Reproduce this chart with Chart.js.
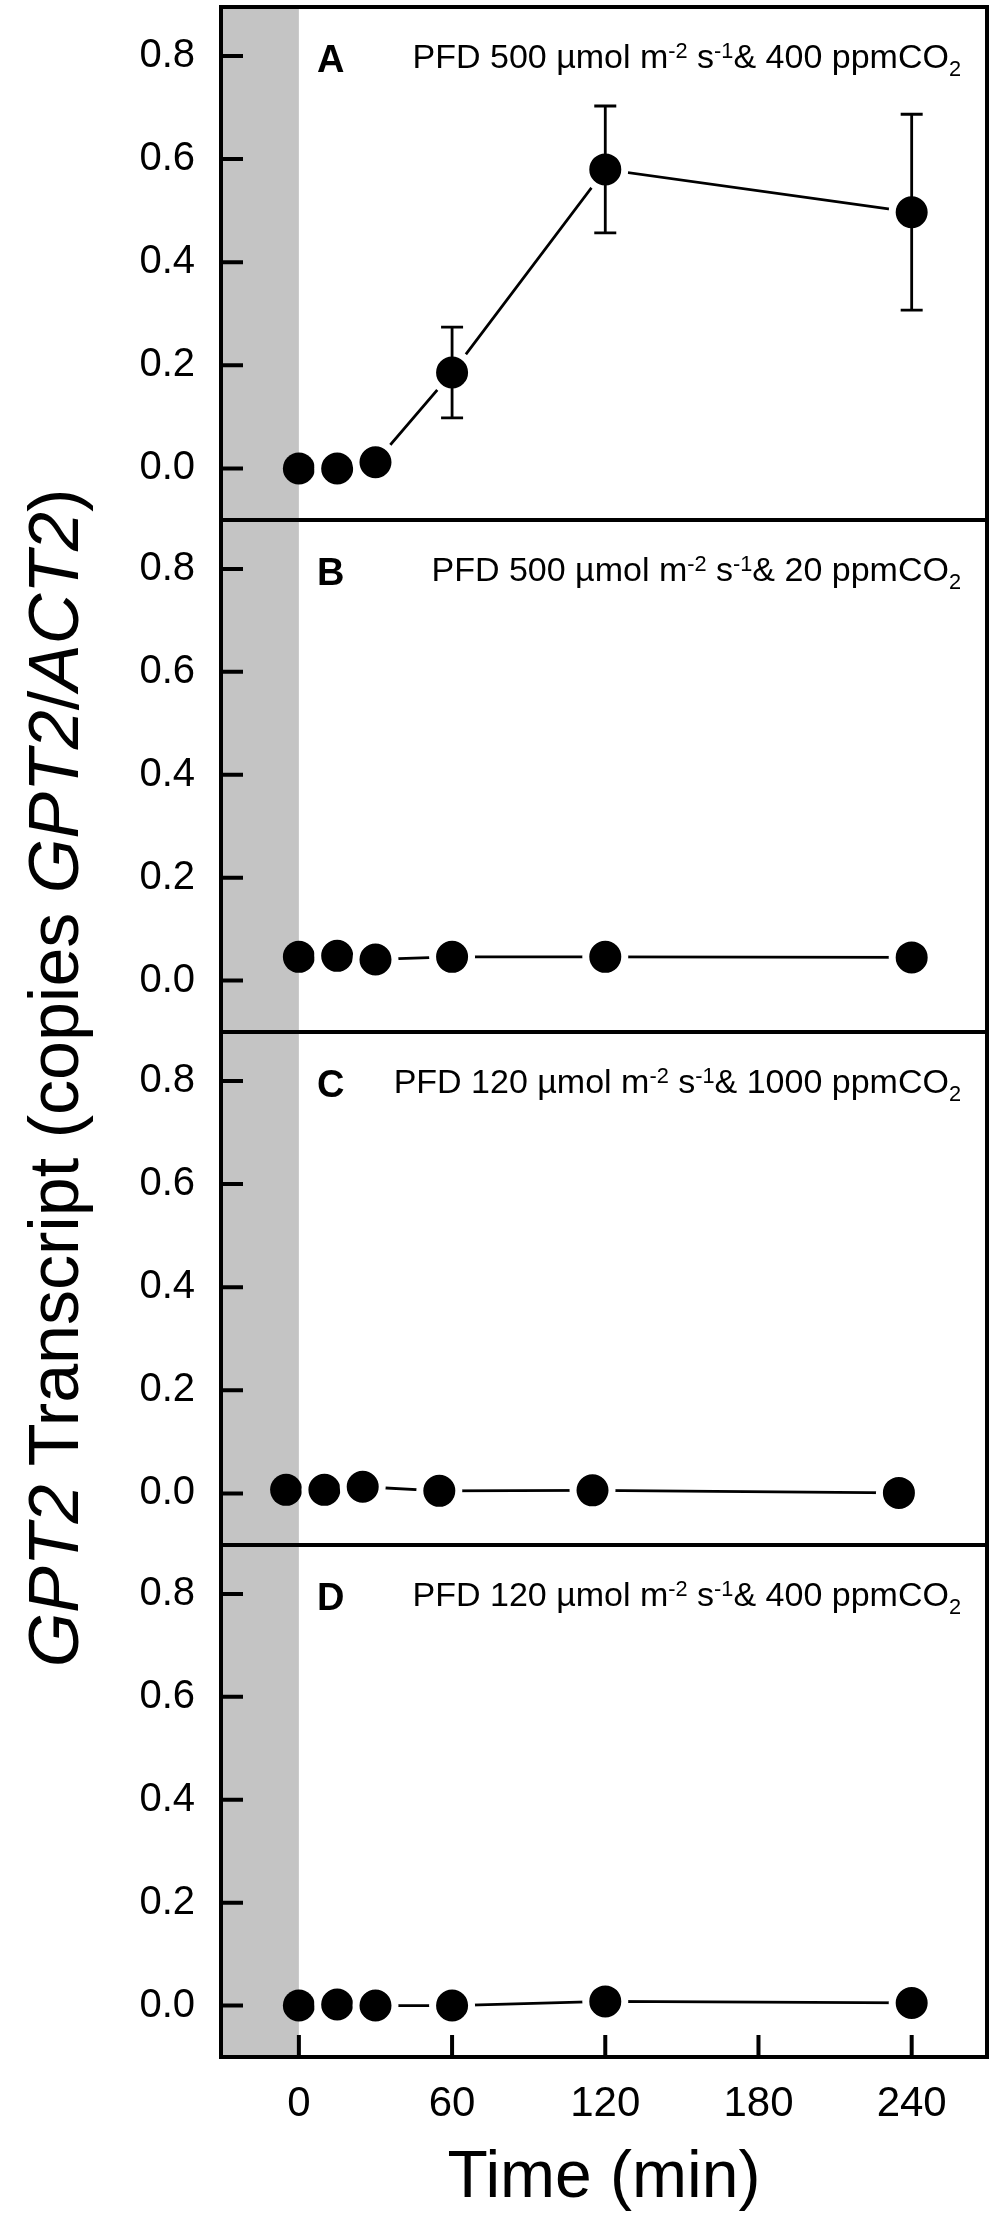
<!DOCTYPE html>
<html>
<head>
<meta charset="utf-8">
<title>GPT2 transcript time course</title>
<script src="https://cdn.jsdelivr.net/npm/chart.js@4.4.1/dist/chart.umd.min.js"></script>
<style>
  html, body { margin: 0; padding: 0; background: #fff; }
  #fig {
    position: relative; width: 997px; height: 2231px; overflow: hidden;
    font-family: 'Liberation Sans', Arial, sans-serif; color: #000;
  }
  #fig canvas { position: absolute; left: 0; }
  .letter { position: absolute; left: 317px; font-size: 38px; font-weight: bold; line-height: 1; }
  .note { position: absolute; right: 36px; font-size: 34px; line-height: 1; white-space: nowrap; }
  .note sup, .note sub { font-size: 0.64em; line-height: 0; }
  .note sup { vertical-align: 0.45em; }
  .note sub { vertical-align: -0.35em; }
  #ytitle {
    position: absolute; left: 54px; top: 1078px; font-size: 70px; line-height: 1;
    white-space: nowrap; transform: translate(-50%, -50%) rotate(-90deg);
  }
</style>
</head>
<body>
<div id="fig">
  <div id="ytitle"><i>GPT2</i> Transcript (copies <i>GPT2</i>/<i>ACT2</i>)</div>
</div>
<script>
const FONT = "'Liberation Sans', Arial, sans-serif";

// ── Données ────────────────────────────────────────────────────────────────

const panelLetters = ['A', 'B', 'C', 'D'];
const pfdLevels    = [500, 500, 120, 120];
const co2Levels    = [400, 20, 1000, 400];

const timeA = [0, 15, 30, 60, 120, 240];
const gptA  = [0.000, 0.000, 0.012, 0.186, 0.580, 0.497];
const errA  = [0, 0, 0, 0.088, 0.123, 0.190];

const timeB = [0, 15, 30, 60, 120, 240];
const gptB  = [0.046, 0.048, 0.041, 0.046, 0.046, 0.045];

const timeC = [-5, 10, 25, 55, 115, 235];
const gptC  = [0.007, 0.007, 0.013, 0.005, 0.006, 0.001];

const timeD = [0, 15, 30, 60, 120, 240];
const gptD  = [0.000, 0.002, 0.000, 0.000, 0.008, 0.005];

const xTicks = [0, 60, 120, 180, 240];
const yTicks = [0, 0.2, 0.4, 0.6, 0.8];

const panels = [
  { time: timeA, value: gptA, err: errA },
  { time: timeB, value: gptB, err: null },
  { time: timeC, value: gptC, err: null },
  { time: timeD, value: gptD, err: null },
];

// ── Mise en page ───────────────────────────────────────────────────────────

const PAGE_W   = 997;
const PAGE_H   = 2231;
const FRAME_L  = 221;
const FRAME_R  = 987;
const FRAME_T  = 7;
const PANEL_H  = 512.5;
const PAD      = 10;
const X_AXIS_H = PAGE_H - Math.round(FRAME_T + 4 * PANEL_H);

const fig = document.getElementById('fig');
const panelTop = i => Math.round(FRAME_T + i * PANEL_H);

// Fixe la taille d'un axe et supprime la marge ajoutée pour ses labels
function lockScale(s, size) {
  if (s.isHorizontal()) s.height = size; else s.width = size;
  s.paddingTop = s.paddingBottom = s.paddingLeft = s.paddingRight = 0;
}

// ── Plugin : bande grise, barres d'erreur, cadre et graduations ───────────

const framePlugin = {
  id: 'frame',
  beforeDatasetsDraw(chart) {
    const { ctx, chartArea: a, scales: { x } } = chart;
    const x0 = x.getPixelForValue(0);
    ctx.save();
    ctx.fillStyle = '#c4c4c4';
    ctx.fillRect(a.left, a.top, x0 - a.left, a.bottom - a.top);
    ctx.restore();
  },
  afterDatasetsDraw(chart, args, opts) {
    if (!opts.err) return;
    const { ctx, scales: { y } } = chart;
    const meta = chart.getDatasetMeta(0);
    const vals = chart.data.datasets[0].data;
    ctx.save();
    ctx.strokeStyle = '#000';
    ctx.lineWidth = 2.8;
    opts.err.forEach((e, i) => {
      if (!e) return;
      const px  = meta.data[i].x;
      const top = y.getPixelForValue(vals[i].y + e);
      const bot = y.getPixelForValue(vals[i].y - e);
      ctx.beginPath();
      ctx.moveTo(px, top); ctx.lineTo(px, bot);
      ctx.moveTo(px - 11, top); ctx.lineTo(px + 11, top);
      ctx.moveTo(px - 11, bot); ctx.lineTo(px + 11, bot);
      ctx.stroke();
    });
    ctx.restore();
  },
  afterDraw(chart, args, opts) {
    const { ctx, chartArea: a, scales: { x, y } } = chart;
    ctx.save();
    ctx.strokeStyle = '#000';
    ctx.lineWidth = 4;
    ctx.strokeRect(a.left, a.top, a.right - a.left, a.bottom - a.top);
    ctx.beginPath();
    yTicks.forEach(v => {
      const py = y.getPixelForValue(v);
      ctx.moveTo(a.left, py); ctx.lineTo(a.left + 22, py);
    });
    if (opts.bottomTicks) {
      xTicks.forEach(v => {
        const px = x.getPixelForValue(v);
        ctx.moveTo(px, a.bottom); ctx.lineTo(px, a.bottom - 22);
      });
    }
    ctx.stroke();
    ctx.restore();
  },
};

// ── Création d'un panneau ──────────────────────────────────────────────────

function makePanel(i) {
  const p      = panels[i];
  const last   = i === panels.length - 1;
  const top    = panelTop(i) - PAD;
  const height = last ? PAGE_H - top : panelTop(i + 1) - panelTop(i) + 2 * PAD;

  const canvas = document.createElement('canvas');
  canvas.width  = PAGE_W;
  canvas.height = height;
  canvas.style.top    = top + 'px';
  canvas.style.width  = PAGE_W + 'px';
  canvas.style.height = height + 'px';
  fig.appendChild(canvas);

  const inGrey = ctx => ctx.raw && ctx.raw.x <= 0;

  new Chart(canvas, {
    type: 'line',
    data: {
      datasets: [{
        data:                 p.time.map((t, j) => ({ x: t, y: p.value[j] })),
        borderColor:          '#000',
        borderWidth:          2.8,
        tension:              0,
        pointBackgroundColor: '#000',
        pointBorderColor:     ctx => inGrey(ctx) ? 'rgba(0,0,0,0)' : '#fff',
        pointBorderWidth:     ctx => inGrey(ctx) ? 0 : 7,
        pointRadius:          ctx => inGrey(ctx) ? 16 : 19.5,
        clip:                 false,
      }],
    },
    options: {
      responsive: false,
      animation: false,
      devicePixelRatio: 1,
      events: [],
      layout: {
        autoPadding: false,
        padding: { top: PAD, bottom: last ? 0 : PAD, left: 0, right: PAGE_W - FRAME_R },
      },
      plugins: {
        legend:  { display: false },
        tooltip: { enabled: false },
        frame:   { err: p.err, bottomTicks: last },
      },
      scales: {
        x: {
          type: 'linear',
          min: -30.5,
          max: 269.5,
          display: last,
          afterBuildTicks: s => { s.ticks = xTicks.map(v => ({ value: v })); },
          afterFit: s => lockScale(s, last ? X_AXIS_H : 0),
          grid:   { display: false, drawTicks: false },
          border: { display: false },
          ticks: {
            color: '#000',
            padding: 22,
            maxRotation: 0,
            font: { family: FONT, size: 42 },
          },
          title: {
            display: true,
            text: 'Time (min)',
            color: '#000',
            font: { family: FONT, size: 66 },
            padding: { top: 0, bottom: 13 },
          },
        },
        y: {
          type: 'linear',
          min: -0.1,
          max: 0.895,
          afterBuildTicks: s => { s.ticks = yTicks.map(v => ({ value: v })); },
          afterFit: s => lockScale(s, FRAME_L),
          grid:   { display: false, drawTicks: false },
          border: { display: false },
          ticks: {
            color: '#000',
            padding: 26,
            font: { family: FONT, size: 40 },
            callback: v => v.toFixed(1),
          },
        },
      },
    },
    plugins: [framePlugin],
  });

  const letter = document.createElement('div');
  letter.className = 'letter';
  letter.style.top = (panelTop(i) + 33) + 'px';
  letter.textContent = panelLetters[i];
  fig.appendChild(letter);

  const note = document.createElement('div');
  note.className = 'note';
  note.style.top = (panelTop(i) + 32) + 'px';
  note.innerHTML = `PFD ${pfdLevels[i]} µmol m<sup>-2</sup> s<sup>-1</sup>&amp; ${co2Levels[i]} ppmCO<sub>2</sub>`;
  fig.appendChild(note);
}

panels.forEach((_, i) => makePanel(i));
</script>
</body>
</html>
